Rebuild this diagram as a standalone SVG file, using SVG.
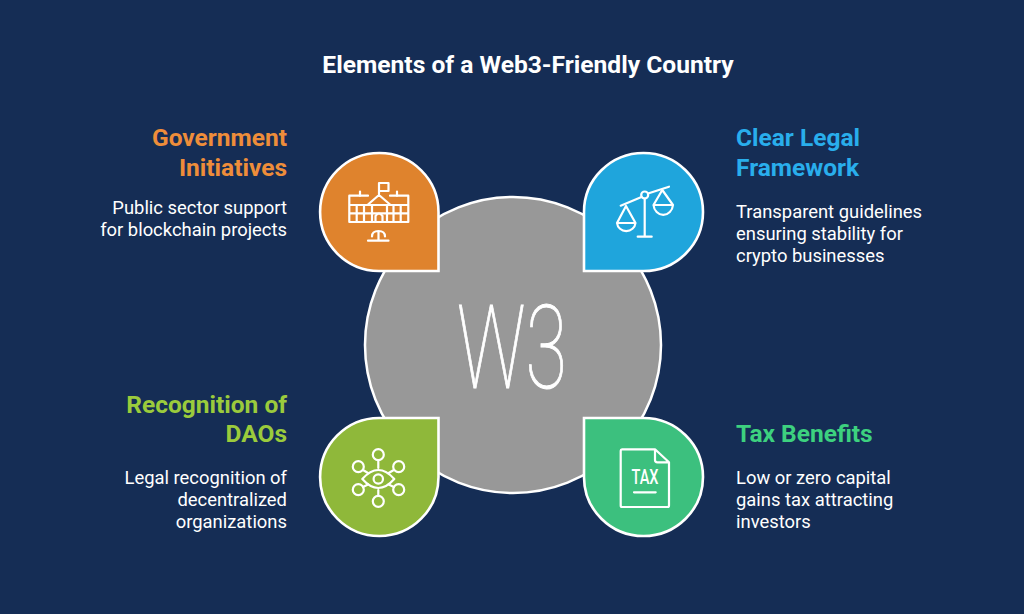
<svg xmlns="http://www.w3.org/2000/svg" width="1024" height="614" viewBox="0 0 1024 614">
<style>
text{font-family:Roboto,"Liberation Sans",sans-serif}
.title{font-size:24.6px;font-weight:700;fill:#fff}
.head{font-size:24.5px;font-weight:700}
.body{font-size:18.4px;fill:#fff;font-weight:400}
.e{text-anchor:end}
.drop{stroke:#fff;stroke-width:2.6;stroke-linejoin:miter}
.ic{fill:none;stroke:#fff;stroke-width:2.2;stroke-linecap:round;stroke-linejoin:round}
</style>
<rect width="1024" height="614" fill="#152D55"/>
<text class="title" x="528" y="73" text-anchor="middle">Elements of a Web3-Friendly Country</text>
<g id="center">
<circle cx="513" cy="345" r="148" fill="#989898" stroke="#fff" stroke-width="2.500"/>
<text x="512" y="388" text-anchor="middle" font-size="117" font-weight="100" fill="#fff" stroke="#fff" stroke-width="1" textLength="110" lengthAdjust="spacingAndGlyphs">W3</text>
</g>
<g id="node-government">
<path class="drop" d="M438.500 271H379A59.200 59 0 1 1 438.500 212Z" fill="#DF832D"/>
<g class="ic">
<path d="M368 195.700H349.300V222H408.300V195.700H390M349.300 205H368M390 205H408.300M349.300 213.300H408.300"/>
<path d="M368 204.500L379 195L390 204.500M368 205H390M379 195V183H388.500V191H379"/>
<path d="M360 191.500V195.700M397 191.500V195.700"/>
<path d="M356.700 205V222M364 205V222M372 205V222M387 205V222M393.500 205V222M400.700 205V222"/>
<path d="M375.500 222V216Q379 211 382.500 216V222"/>
<path d="M368 240.700H388.500M378.500 240.700V231M372 236.500Q372 231 378.500 231Q385 231 385 236.500"/>
</g>
<text class="head e" x="287" y="146" fill="#EE8D3A">Government</text>
<text class="head e" x="287" y="176" fill="#EE8D3A">Initiatives</text>
<text class="body e" x="287" y="214">Public sector support</text>
<text class="body e" x="287" y="236">for blockchain projects</text>
</g>
<g id="node-legal">
<path class="drop" d="M584 271V212A59.500 59 0 1 1 643.500 271Z" fill="#1FA5DC"/>
<g class="ic">
<circle cx="644.700" cy="195" r="3.500"/>
<path d="M620.700 205.700L641.500 197M648 193.500L669 186.700M644.700 198.500V236.700M637.700 236.700H651.700"/>
<path d="M617 223L626 206L635.500 223H617A9.300 9 0 0 0 635.500 223"/>
<path d="M653.500 205L662.300 190L673 205H653.500A9.800 11 0 0 0 673 205"/>
</g>
<text class="head" x="736" y="146" fill="#29AEEC">Clear Legal</text>
<text class="head" x="736" y="176" fill="#29AEEC">Framework</text>
<text class="body" x="736" y="218">Transparent guidelines</text>
<text class="body" x="736" y="240">ensuring stability for</text>
<text class="body" x="736" y="262">crypto businesses</text>
</g>
<g id="node-daos">
<path class="drop" d="M438.500 418V477A59.200 59 0 1 1 379 418Z" fill="#8FB83A"/>
<g class="ic">
<path d="M362.300 479Q378.300 461 394.300 479Q378.300 497 362.300 479Z"/>
<circle cx="378.300" cy="479" r="4.700"/>
<circle cx="378.300" cy="454.700" r="5.500"/>
<circle cx="378.300" cy="501.300" r="5.500"/>
<circle cx="358.300" cy="466.700" r="5.500"/>
<circle cx="398.700" cy="466.700" r="5.500"/>
<circle cx="358.300" cy="489.700" r="5.500"/>
<circle cx="398.700" cy="489.700" r="5.500"/>
<path d="M378.300 460.200V468M378.300 490V495.800M363 470L368 473M393.800 470L388.700 473M363 487L368 484.500M393.800 487L388.700 484.500"/>
</g>
<text class="head e" x="287" y="413" fill="#9BCB3C">Recognition of</text>
<text class="head e" x="287" y="442" fill="#9BCB3C">DAOs</text>
<text class="body e" x="287" y="484">Legal recognition of</text>
<text class="body e" x="287" y="506">decentralized</text>
<text class="body e" x="287" y="528">organizations</text>
</g>
<g id="node-tax">
<path class="drop" d="M584 418H643.500A59.500 59 0 1 1 584 477Z" fill="#3CC07E"/>
<g class="ic">
<path d="M622 449.300H655L669 462.300V505.500Q669 507 667.500 507H622Q620.700 507 620.700 505.500V450.700Q620.700 449.300 622 449.300ZM655 449.300V460Q655 462.300 657.500 462.300H669M634 492.300H655.700"/>
</g>
<text x="645" y="484" text-anchor="middle" font-size="20" font-weight="500" fill="#fff" textLength="27" lengthAdjust="spacingAndGlyphs">TAX</text>
<text class="head" x="736" y="442" fill="#3DD17F">Tax Benefits</text>
<text class="body" x="736" y="484">Low or zero capital</text>
<text class="body" x="736" y="506">gains tax attracting</text>
<text class="body" x="736" y="528">investors</text>
</g>
</svg>
